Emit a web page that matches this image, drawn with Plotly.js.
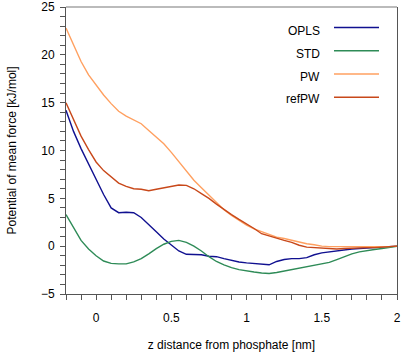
<!DOCTYPE html>
<html>
<head>
<meta charset="utf-8">
<script src="https://cdn.plot.ly/plotly-3.0.1.min.js"></script>
<style>
  body { margin: 0; padding: 0; background: #fff; }
  #graph { width: 401px; height: 352px; }
</style>
</head>
<body>
<div id="graph"></div>
<script>
// z distance from phosphate [nm]
var zNm = [-0.2, -0.15, -0.1, -0.05, 0, 0.05, 0.1, 0.15, 0.2, 0.25, 0.3, 0.35, 0.4, 0.45,
  0.5, 0.55, 0.6, 0.65, 0.7, 0.75, 0.8, 0.85, 0.9, 0.95, 1.0, 1.05, 1.1, 1.15, 1.2, 1.25,
  1.3, 1.35, 1.4, 1.45, 1.5, 1.55, 1.6, 1.65, 1.7, 1.75, 1.8, 1.85, 1.9, 1.95, 2.0];

// potential of mean force [kJ/mol]
var opls = [14.2, 12.0, 10.2, 8.6, 6.9, 5.4, 4.0, 3.5, 3.55, 3.5, 3.0, 2.2, 1.5, 0.75,
  0.1, -0.5, -0.85, -0.85, -0.9, -1.05, -1.1, -1.3, -1.5, -1.65, -1.75, -1.8, -1.9, -1.95,
  -1.6, -1.4, -1.3, -1.3, -1.2, -0.9, -0.7, -0.6, -0.45, -0.35, -0.3, -0.25, -0.2, -0.15,
  -0.1, -0.05, 0.0];
var std = [3.3, 1.9, 0.6, -0.3, -1.0, -1.55, -1.8, -1.85, -1.85, -1.65, -1.3, -0.8, -0.25,
  0.2, 0.5, 0.6, 0.4, 0.0, -0.5, -1.1, -1.6, -1.95, -2.25, -2.45, -2.6, -2.7, -2.8, -2.85,
  -2.75, -2.6, -2.45, -2.35, -2.2, -2.05, -1.9, -1.7, -1.4, -1.1, -0.8, -0.6, -0.45, -0.35,
  -0.25, -0.15, 0.0];
var pw = [22.8, 21.0, 19.3, 17.9, 16.8, 15.8, 14.9, 14.1, 13.6, 13.2, 12.8, 12.1, 11.4,
  10.7, 9.8, 8.8, 7.8, 6.9, 6.1, 5.3, 4.5, 3.8, 3.2, 2.7, 2.2, 1.8, 1.5, 1.2, 0.95, 0.8,
  0.6, 0.4, 0.25, 0.15, 0.0, -0.05, -0.05, -0.1, -0.1, -0.1, -0.1, -0.1, -0.05, -0.05, 0.0];
var refpw = [15.0, 13.2, 11.5, 10.1, 8.8, 7.9, 7.2, 6.6, 6.25, 6.0, 5.95, 5.8, 5.95, 6.1,
  6.25, 6.4, 6.35, 6.0, 5.5, 5.0, 4.4, 3.8, 3.3, 2.8, 2.35, 1.85, 1.3, 1.05, 0.85, 0.6,
  0.4, 0.1, -0.1, -0.15, -0.2, -0.3, -0.3, -0.25, -0.2, -0.2, -0.15, -0.15, -0.1, -0.05, 0.0];

var seriesNames = ['OPLS', 'STD', 'PW', 'refPW'];
var seriesData = [opls, std, pw, refpw];
var colors = ['#101090', '#2e8b57', '#ffa060', '#c8481a'];

var traces = seriesData.map(function (ys, i) {
  return {
    x: zNm, y: ys, type: 'scatter', mode: 'lines', name: seriesNames[i],
    line: { color: colors[i], width: 1.4 }, showlegend: false
  };
});

// hand-made legend: label on the left, line sample on the right
var plotL = 66, plotT = 7, plotW = 331, plotH = 287;
function px(x) { return (x - plotL) / plotW; }
function py(y) { return (plotT + plotH - y) / plotH; }
var legTextY = [31.5, 53.5, 76.5, 99];
var legLineY = [27.5, 50.7, 74, 97.3];

var shapes = [{
  type: 'line', xref: 'paper', yref: 'paper', x0: 0, x1: 1, y0: 1, y1: 1,
  line: { color: '#bbbbbb', width: 2 }
}];
var annotations = [];
seriesNames.forEach(function (n, i) {
  shapes.push({
    type: 'line', xref: 'paper', yref: 'paper', x0: px(334), x1: px(379),
    y0: py(legLineY[i]), y1: py(legLineY[i]), line: { color: colors[i], width: 1.4 }
  });
  annotations.push({
    text: n, xref: 'paper', yref: 'paper', x: px(322), y: py(legTextY[i]),
    xanchor: 'right', yanchor: 'middle', showarrow: false,
    font: { size: 12, color: '#000' }
  });
});

var layout = {
  width: 401, height: 352,
  margin: { l: 66, r: 4, t: 7, b: 58 },
  paper_bgcolor: '#fff', plot_bgcolor: '#fff',
  font: { family: 'Liberation Sans, Arial, sans-serif', size: 12, color: '#000' },
  showlegend: false,
  xaxis: {
    range: [-0.2, 2], tickvals: [0, 0.5, 1, 1.5, 2], ticktext: ['0', '0.5', '1', '1.5', '2'],
    ticks: 'outside', ticklen: 5, tickcolor: '#555', showgrid: false, zeroline: false,
    showline: true, linecolor: '#555', linewidth: 1, ticklabelstandoff: 8,
    minor: { dtick: 0.1, tick0: 0, ticks: 'outside', ticklen: 5, tickcolor: '#555', showgrid: false },
    title: { text: 'z distance from phosphate [nm]', font: { size: 12 }, standoff: 23 }
  },
  yaxis: {
    range: [-5, 25], dtick: 5, tick0: 0,
    ticks: 'outside', ticklen: 5, tickcolor: '#555', showgrid: false, zeroline: false,
    showline: true, linecolor: '#555', linewidth: 1, mirror: true, ticklabelstandoff: 3,
    minor: { dtick: 1, tick0: 0, ticks: 'outside', ticklen: 5, tickcolor: '#555', showgrid: false },
    title: { text: 'Potential of mean force [kJ/mol]', font: { size: 12 }, standoff: 21 }
  },
  shapes: shapes,
  annotations: annotations
};

Plotly.newPlot('graph', traces, layout, { displayModeBar: false, staticPlot: true });
</script>
</body>
</html>
